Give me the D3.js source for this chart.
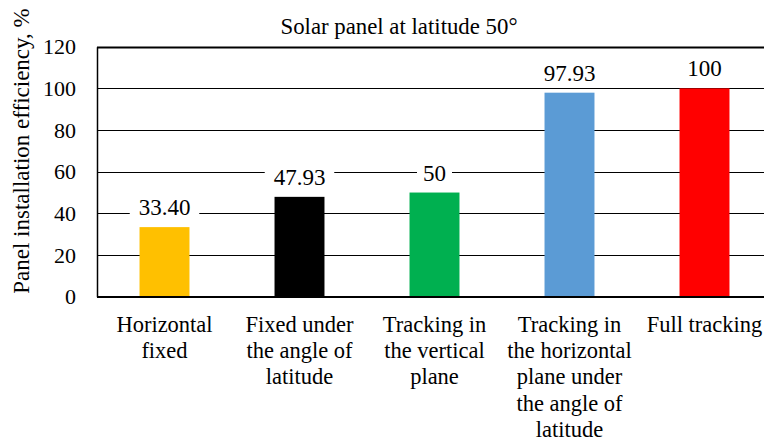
<!DOCTYPE html>
<html>
<head>
<meta charset="utf-8">
<script src="https://cdn.jsdelivr.net/npm/d3@7"></script>
</head>
<body style="margin:0">
<svg id="chart" width="764" height="442"></svg>
<script>
// Installation types and their relative efficiency (%)
const categories = [
  ["Horizontal", "fixed"],
  ["Fixed under", "the angle of", "latitude"],
  ["Tracking in", "the vertical", "plane"],
  ["Tracking in", "the horizontal", "plane under", "the angle of", "latitude"],
  ["Full tracking"]
];
const values = [33.40, 47.93, 50, 97.93, 100];
const valueLabels = ["33.40", "47.93", "50", "97.93", "100"];
const barColors = ["#FFC000", "#000000", "#00B050", "#5B9BD5", "#FF0000"];
const yTicks = [0, 20, 40, 60, 80, 100, 120];
const titleText = "Solar panel at latitude 50°";
const yTitle = "Panel installation efficiency, %";

const FONT = '"Liberation Serif"';
const svg = d3.select("#chart");
const margin = { left: 97, top: 46.7, bottom: 296.7, right: 772 };

// Apply the serif face to a text selection
function serif(sel, size) {
  return sel.attr("font-family", "Liberation Serif")
    .style("font-family", FONT)
    .attr("font-size", size);
}

const x = d3.scaleBand()
  .domain(d3.range(values.length))
  .range([margin.left, margin.right])
  .paddingInner(0.63)
  .paddingOuter(0.315);

const y = d3.scaleLinear().domain([0, 120]).range([margin.bottom, margin.top]);

// Gridlines
svg.append("g")
  .selectAll("line")
  .data(yTicks)
  .join("line")
  .attr("x1", margin.left)
  .attr("x2", margin.right)
  .attr("y1", d => Math.round(y(d)) + 0.5)
  .attr("y2", d => Math.round(y(d)) + 0.5)
  .attr("stroke", "#000")
  .attr("stroke-width", d => d === 120 ? 2 : 1.2);

// Left axis
const yAxis = d3.axisLeft(y).tickValues(yTicks).tickSize(0).tickPadding(21);
const gy = svg.append("g").attr("transform", `translate(${margin.left},0)`).call(yAxis);
gy.attr("font-family", "Liberation Serif").attr("font-size", 22);
gy.select(".domain").attr("stroke", "#000").attr("stroke-width", 1.5);
serif(gy.selectAll("text"), 22).attr("fill", "#000");

// Bars
svg.append("g")
  .selectAll("rect")
  .data(values)
  .join("rect")
  .attr("x", (d, i) => x(i))
  .attr("width", x.bandwidth())
  .attr("y", d => y(d))
  .attr("height", d => y(0) - y(d))
  .attr("fill", (d, i) => barColors[i]);

// Axis baseline on top of bars
svg.append("line")
  .attr("x1", margin.left).attr("x2", margin.right)
  .attr("y1", y(0)).attr("y2", y(0))
  .attr("stroke", "#000").attr("stroke-width", 1.5);

// Value labels, each on a white patch that interrupts the gridline
const lab = svg.append("g")
  .selectAll("g")
  .data(values)
  .join("g")
  .attr("transform", (d, i) => `translate(${x(i) + x.bandwidth() / 2},${y(d) - 12})`);
lab.append("rect")
  .attr("fill", "#fff")
  .attr("x", (d, i) => -valueLabels[i].length * 5.75 - 6)
  .attr("y", -17)
  .attr("width", (d, i) => valueLabels[i].length * 11.5 + 12)
  .attr("height", 21);
serif(lab.append("text"), 23)
  .attr("text-anchor", "middle")
  .attr("fill", "#000")
  .text((d, i) => valueLabels[i]);

// Category labels
const cat = svg.append("g")
  .selectAll("text")
  .data(categories)
  .join("text")
  .attr("text-anchor", "middle")
  .attr("fill", "#000")
  .attr("x", (d, i) => x(i) + x.bandwidth() / 2)
  .attr("y", 332);
serif(cat, 22.5);
cat.each(function (lines) {
  const t = d3.select(this);
  lines.forEach((s, k) => {
    t.append("tspan")
      .attr("x", t.attr("x"))
      .attr("y", 332 + k * 26.2)
      .text(s);
  });
});

// Title
serif(svg.append("text"), 22.8)
  .attr("x", 399)
  .attr("y", 34)
  .attr("text-anchor", "middle")
  .attr("fill", "#000")
  .text(titleText);

// Y-axis title
serif(svg.append("text"), 23)
  .attr("transform", "translate(29,151) rotate(-90)")
  .attr("text-anchor", "middle")
  .attr("fill", "#000")
  .text(yTitle);
</script>
</body>
</html>
